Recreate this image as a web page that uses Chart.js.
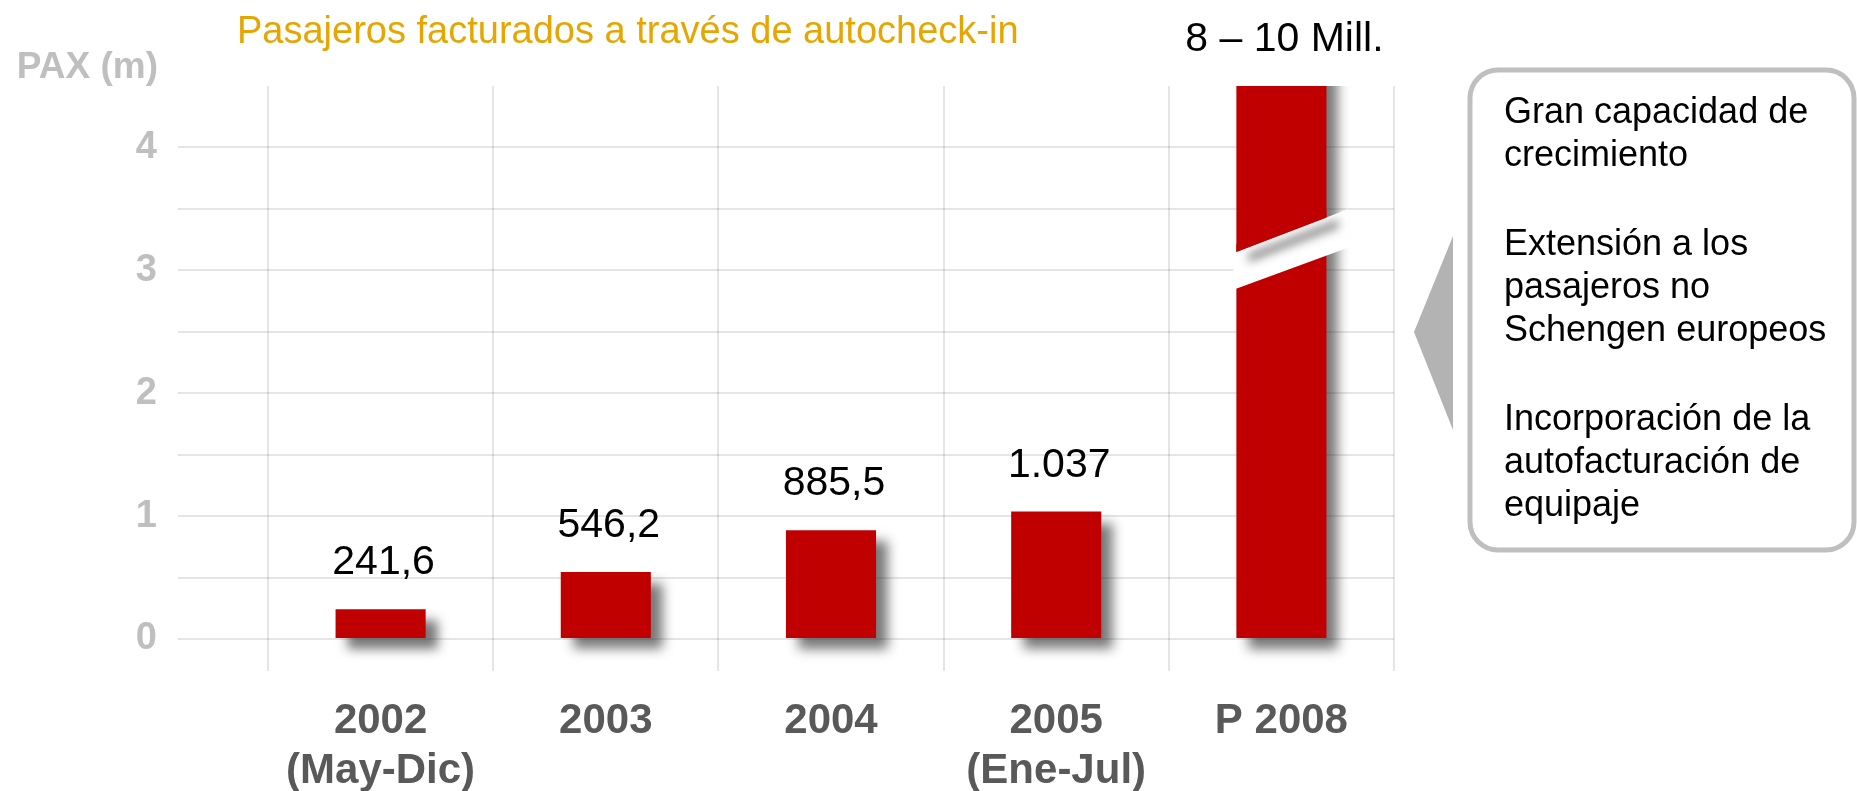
<!DOCTYPE html>
<html lang="es">
<head>
<meta charset="utf-8">
<title>Pasajeros facturados a través de autocheck-in</title>
<script src="https://cdn.jsdelivr.net/npm/chart.js@4.4.1/dist/chart.umd.min.js"></script>
<style>
  html, body { margin: 0; padding: 0; background: #fff; }
  canvas { display: block; }
</style>
</head>
<body>
<canvas id="paxChart" width="1857" height="791"></canvas>
<script>
const categories = [['2002', '(May-Dic)'], '2003', '2004', ['2005', '(Ene-Jul)'], 'P 2008']
// millones de pasajeros; P 2008 = 8-10 mill. (se sale del eje, barra cortada)
const paxMillions = [0.2416, 0.5462, 0.8855, 1.037, 9]
const valueLabels = ['241,6', '546,2', '885,5', '1.037', '8 – 10 Mill.']
const yTickLabels = [0, 1, 2, 3, 4]
const notes = [
  ['Gran capacidad de', 'crecimiento'],
  ['Extensión a los', 'pasajeros no', 'Schengen europeos'],
  ['Incorporación de la', 'autofacturación de', 'equipaje'],
]
// corte de la barra P 2008 (valor en borde izquierdo, borde derecho)
const breakUpper = [3.15, 3.43]
const breakLower = [2.85, 3.12]

const FONT = '"Liberation Sans", Arial, sans-serif'

const barShadow = {
  id: 'barShadow',
  beforeDatasetsDraw (chart) {
    const ctx = chart.ctx
    ctx.save()
    ctx.shadowColor = 'rgba(30,30,30,0.6)'
    ctx.shadowBlur = 11
    ctx.shadowOffsetX = 12
    ctx.shadowOffsetY = 11
  },
  afterDatasetsDraw (chart) {
    chart.ctx.restore()
  }
}

const barBreak = {
  id: 'barBreak',
  afterDatasetsDraw (chart) {
    const ctx = chart.ctx
    const y = chart.scales.y
    const bar = chart.getDatasetMeta(0).data[paxMillions.length - 1]
    const left = bar.x - bar.width / 2
    const right = left + bar.width
    const edge = (vals, x) => {
      const yl = y.getPixelForValue(vals[0])
      const yr = y.getPixelForValue(vals[1])
      return yl + (yr - yl) * (x - left) / bar.width
    }
    const l = left - 3
    const r = right + 22
    ctx.save()
    ctx.fillStyle = '#fff'
    ctx.beginPath()
    ctx.moveTo(l, edge(breakUpper, l))
    ctx.lineTo(r, edge(breakUpper, r))
    ctx.lineTo(r, edge(breakLower, r))
    ctx.lineTo(l, edge(breakLower, l))
    ctx.closePath()
    ctx.fill()
    // sombra del trozo superior dentro del hueco
    ctx.shadowColor = 'rgba(30,30,30,0.55)'
    ctx.shadowBlur = 10
    ctx.shadowOffsetX = 12
    ctx.shadowOffsetY = 10
    ctx.fillStyle = '#C00000'
    ctx.beginPath()
    ctx.moveTo(left, edge(breakUpper, left) - 8)
    ctx.lineTo(right, edge(breakUpper, right) - 8)
    ctx.lineTo(right, edge(breakUpper, right))
    ctx.lineTo(left, edge(breakUpper, left))
    ctx.closePath()
    ctx.fill()
    ctx.restore()
  }
}

const annotations = {
  id: 'annotations',
  afterDraw (chart) {
    const ctx = chart.ctx
    const area = chart.chartArea
    ctx.save()

    // titulo
    ctx.font = '38px ' + FONT
    ctx.fillStyle = '#E6A500'
    ctx.textAlign = 'left'
    ctx.textBaseline = 'alphabetic'
    ctx.fillText('Pasajeros facturados a través de autocheck-in', 237, 43)

    // unidad del eje
    ctx.font = 'bold 37px ' + FONT
    ctx.fillStyle = '#BFBFBF'
    ctx.textAlign = 'right'
    ctx.fillText('PAX (m)', 158, 78)

    // etiquetas de valor
    ctx.font = '41px ' + FONT
    ctx.fillStyle = '#000'
    ctx.textAlign = 'center'
    chart.getDatasetMeta(0).data.forEach((bar, i) => {
      const top = Math.max(bar.y, area.top)
      ctx.fillText(valueLabels[i], bar.x + 3, top - 35)
    })

    // flecha
    ctx.fillStyle = '#B3B3B3'
    ctx.beginPath()
    ctx.moveTo(1414, 332)
    ctx.lineTo(1453, 236)
    ctx.lineTo(1453, 430)
    ctx.closePath()
    ctx.fill()

    // caja de notas
    ctx.strokeStyle = '#BFBFBF'
    ctx.lineWidth = 5
    ctx.beginPath()
    ctx.roundRect(1470, 70, 384, 480, 28)
    ctx.stroke()

    ctx.font = '36px ' + FONT
    ctx.fillStyle = '#000'
    ctx.textAlign = 'left'
    let baseline = 123
    notes.forEach(group => {
      group.forEach(line => {
        ctx.fillText(line, 1504, baseline)
        baseline += 43
      })
      baseline += 46
    })

    ctx.restore()
  }
}

const gridColor = 'rgba(0,0,0,0.1)'

new Chart(document.getElementById('paxChart'), {
  type: 'bar',
  data: {
    labels: categories,
    datasets: [{
      data: paxMillions,
      backgroundColor: '#C00000',
      borderWidth: 0,
      categoryPercentage: 0.8,
      barPercentage: 0.5,
      clip: { left: false, top: 0, right: false, bottom: false },
    }]
  },
  options: {
    responsive: false,
    animation: false,
    devicePixelRatio: 1,
    layout: { padding: { top: 86, right: 463, bottom: 0, left: 0 } },
    plugins: {
      legend: { display: false },
      tooltip: { enabled: false },
    },
    scales: {
      x: {
        afterFit (scale) { scale.height = 152 },
        border: { display: false },
        grid: { color: gridColor, lineWidth: 2, tickLength: 32, offset: true },
        ticks: {
          padding: 25,
          color: '#595959',
          font: { family: FONT, size: 42, weight: 'bold', lineHeight: 1.2 },
        },
      },
      y: {
        min: 0,
        max: 4.5,
        afterFit (scale) { scale.width = 268 },
        border: { display: false },
        grid: {
          color: ctx => ctx.tick && ctx.tick.value === 4.5 ? 'rgba(0,0,0,0)' : gridColor,
          lineWidth: 2,
          tickLength: 90,
        },
        ticks: {
          stepSize: 0.5,
          padding: 21,
          color: '#BFBFBF',
          font: { family: FONT, size: 38, weight: 'bold' },
          callback: v => yTickLabels.includes(v) ? v : '',
        },
      },
    },
  },
  plugins: [barShadow, barBreak, annotations],
})
</script>
</body>
</html>
